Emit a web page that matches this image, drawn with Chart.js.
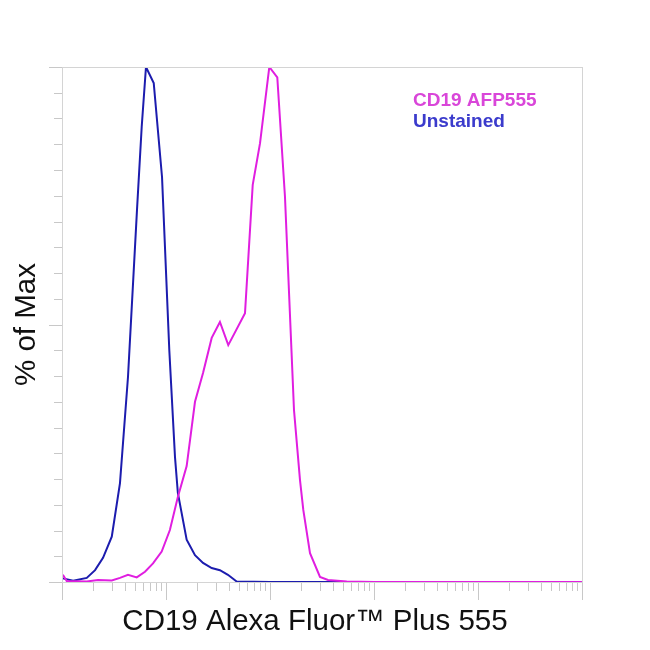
<!DOCTYPE html>
<html>
<head>
<meta charset="utf-8">
<script src="https://cdn.jsdelivr.net/npm/chart.js@4.4.1/dist/chart.umd.min.js"></script>
<style>
  html, body { margin: 0; padding: 0; background: #ffffff; }
  #wrap { width: 650px; height: 650px; position: relative; }
</style>
</head>
<body>
<div id="wrap"><canvas id="c" width="650" height="650"></canvas></div>
<script>
// ---- data ----
const seriesNames = ["CD19 AFP555", "Unstained"];
const xAxisTitle = "CD19 Alexa Fluor\u2122 Plus 555";
const yAxisTitle = "% of Max";

// Unstained (blue) histogram: fluorescence channel value and % of max
const unstainedX = [10.2, 12.8, 17.3, 20.8, 24.8, 30.1, 36.1, 43.1, 52.6, 58.4, 64.2, 76.2, 91.6, 107.6, 122, 130, 158, 190, 227, 275, 330, 394, 478, 1000, 10000, 100000, 1000000];
const unstainedY = [0.7, 0.25, 0.8, 2.3, 4.7, 8.8, 19.2, 39.8, 72.2, 88.4, 100, 96.9, 78.6, 45.0, 24.3, 17.3, 8.2, 5.2, 3.7, 2.7, 2.3, 1.4, 0.1, 0, 0, 0, 0];

// CD19 AFP555 (magenta) histogram
const stainedX = [10.2, 11.1, 17.3, 22.2, 30.1, 36.1, 43.1, 52.3, 62.8, 75.0, 90.9, 109, 130, 158, 190, 227, 275, 330, 397, 575, 682, 802, 985, 1175, 1393, 1701, 1943, 2090, 2425, 3025, 3610, 5470, 10000, 100000, 1000000];
const stainedY = [1.4, 0.2, 0.1, 0.4, 0.3, 0.8, 1.4, 0.9, 2.0, 3.6, 5.9, 10.1, 16.5, 22.5, 35.0, 40.6, 47.4, 50.5, 46.0, 52.2, 77.1, 85.2, 100, 98.0, 74.8, 33.4, 19.8, 14.0, 5.6, 1.0, 0.4, 0.1, 0, 0, 0];

// axis tick values (no labels shown)
const xDecades = [10, 100, 1000, 10000, 100000, 1000000];
const xMinorMultipliers = [2, 3, 4, 5, 6, 7, 8, 9];
const yTickValues = [0, 5, 10, 15, 20, 25, 30, 35, 40, 45, 50, 55, 60, 65, 70, 75, 80, 85, 90, 95, 100];

// ---- styles ----
const stainedColor = "#e01ee0";
const unstainedColor = "#1c1cae";
const stainedLegendColor = "#d946d9";
const unstainedLegendColor = "#3b3bcc";
const frameColor = "#d4d4d4";
const tickColor = "#c8c8c8";
const fontFamily = "'Liberation Sans', Arial, sans-serif";

const toPoints = (xs, ys) => xs.map((x, i) => ({ x: x, y: ys[i] }));

const xTicks = [];
xDecades.forEach((d, i) => {
  xTicks.push({ value: d, major: true });
  if (i < xDecades.length - 1) xMinorMultipliers.forEach(m => xTicks.push({ value: d * m, major: false }));
});

const framePlugin = {
  id: 'frameAndTicks',
  afterDatasetsDraw(chart) {
    const ctx = chart.ctx;
    const a = chart.chartArea;
    const xs = chart.scales.x, ys = chart.scales.y;
    ctx.save();
    ctx.strokeStyle = frameColor;
    ctx.lineWidth = 1;
    ctx.strokeRect(Math.round(a.left) + 0.5, Math.round(a.top) + 0.5, Math.round(a.right - a.left), Math.round(a.bottom - a.top));
    ctx.strokeStyle = tickColor;
    ctx.beginPath();
    xs.ticks.forEach(t => {
      const px = Math.round(xs.getPixelForValue(t.value)) + 0.5;
      const len = t.major ? 18 : 9;
      ctx.moveTo(px, a.bottom + 1);
      ctx.lineTo(px, a.bottom + len);
    });
    ys.ticks.forEach(t => {
      const py = Math.round(ys.getPixelForValue(t.value)) + 0.5;
      const len = (t.value % 50 === 0) ? 13 : 8;
      ctx.moveTo(a.left - len, py);
      ctx.lineTo(a.left, py);
    });
    ctx.stroke();
    ctx.restore();
  },
  afterDraw(chart) {
    const ctx = chart.ctx;
    ctx.save();
    // legend
    ctx.font = "bold 19px " + fontFamily;
    ctx.textBaseline = 'alphabetic';
    ctx.textAlign = 'left';
    ctx.fillStyle = stainedLegendColor;
    ctx.fillText(seriesNames[0], 413, 106);
    ctx.fillStyle = unstainedLegendColor;
    ctx.fillText(seriesNames[1], 413, 127);
    // x axis title
    ctx.font = "29.5px " + fontFamily;
    ctx.textAlign = 'center';
    ctx.fillStyle = '#111111';
    ctx.fillText(xAxisTitle, 315, 630);
    ctx.restore();
  }
};

new Chart(document.getElementById('c'), {
  type: 'line',
  data: {
    datasets: [
      {
        label: seriesNames[0],
        data: toPoints(stainedX, stainedY),
        borderColor: stainedColor,
        borderWidth: 2,
        pointRadius: 0,
        tension: 0,
        fill: false,
        order: 0
      },
      {
        label: seriesNames[1],
        data: toPoints(unstainedX, unstainedY),
        borderColor: unstainedColor,
        borderWidth: 2,
        pointRadius: 0,
        tension: 0,
        fill: false,
        order: 1
      }
    ]
  },
  options: {
    responsive: false,
    animation: false,
    devicePixelRatio: 1,
    layout: { padding: { top: 67, right: 68, left: 0, bottom: 0 } },
    plugins: {
      legend: { display: false },
      tooltip: { enabled: false }
    },
    scales: {
      x: {
        type: 'logarithmic',
        min: 10,
        max: 1000000,
        afterBuildTicks(scale) { scale.ticks = xTicks.map(t => ({ value: t.value, major: t.major })); },
        afterFit(scale) { scale.height = 68; },
        ticks: { display: false, autoSkip: false },
        grid: { display: false },
        border: { display: false },
        title: { display: false }
      },
      y: {
        type: 'linear',
        min: 0,
        max: 100,
        afterBuildTicks(scale) { scale.ticks = yTickValues.map(v => ({ value: v })); },
        afterFit(scale) { scale.width = 62; },
        ticks: { display: false },
        grid: { display: false },
        border: { display: false },
        title: {
          display: true,
          text: yAxisTitle,
          color: '#111111',
          font: { family: fontFamily, size: 29.5 },
          padding: { top: 9, bottom: 0 }
        }
      }
    }
  },
  plugins: [framePlugin]
});
</script>
</body>
</html>
